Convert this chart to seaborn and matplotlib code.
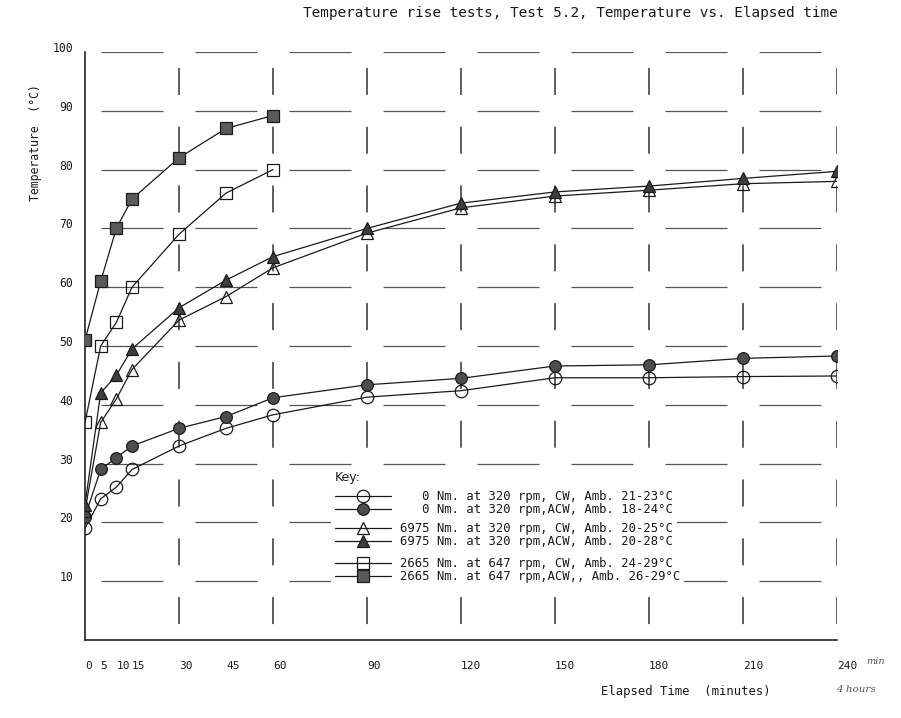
import matplotlib
matplotlib.use('Agg')
import matplotlib.pyplot as plt
import seaborn as sns
import numpy as np
import pandas as pd
from matplotlib.lines import Line2D

sns.set_style('white')
plt.rcParams['font.family'] = ['DejaVu Sans Mono', 'DejaVu Sans']
plt.rcParams['lines.scale_dashes'] = False

# ---------------- data ----------------
time_long = [0, 5, 10, 15, 30, 45, 60, 90, 120, 150, 180, 210, 240]
time_short = [0, 5, 10, 15, 30, 45, 60]

temp_0nm_cw = [19, 24, 26, 29, 33, 36, 38.3, 41.3, 42.4, 44.6, 44.6, 44.8, 44.9]
temp_0nm_acw = [21, 29, 31, 33, 36, 38, 41.2, 43.4, 44.5, 46.6, 46.8, 47.9, 48.3]
temp_6975_cw = [22, 37, 41, 46, 54.4, 58.4, 63.3, 69.2, 73.5, 75.5, 76.5, 77.6, 78.0]
temp_6975_acw = [23, 42, 45, 49.5, 56.5, 61.2, 65.2, 70, 74.3, 76.2, 77.2, 78.5, 79.7]
temp_2665_cw = [37, 50, 54, 60, 69, 76, 80]
temp_2665_acw = [51, 61, 70, 75, 82, 87, 89.2]

series_labels = [
    "   0 Nm. at 320 rpm, CW, Amb. 21-23°C",
    "   0 Nm. at 320 rpm,ACW, Amb. 18-24°C",
    "6975 Nm. at 320 rpm, CW, Amb. 20-25°C",
    "6975 Nm. at 320 rpm,ACW, Amb. 20-28°C",
    "2665 Nm. at 647 rpm, CW, Amb. 24-29°C",
    "2665 Nm. at 647 rpm,ACW,, Amb. 26-29°C",
]

x_ticks = [0, 5, 10, 15, 30, 45, 60, 90, 120, 150, 180, 210, 240]
y_ticks = [10, 20, 30, 40, 50, 60, 70, 80, 90, 100]
grid_x = [30, 60, 90, 120, 150, 180, 210, 240]
grid_y = [10, 20, 30, 40, 50, 60, 70, 80, 90, 100]

title = "Temperature rise tests, Test 5.2, Temperature vs. Elapsed time"
x_label = "Elapsed Time  (minutes)"
y_label = "Temperature  (°C)"

# ---------------- figure ----------------
W, H, DPI = 901, 718, 100
fig = plt.figure(figsize=(W / DPI, H / DPI), dpi=DPI)
ax_l, ax_r, ax_b, ax_t = 85, 837, 640, 52
ax = fig.add_axes([ax_l / W, 1 - ax_b / H, (ax_r - ax_l) / W, (ax_b - ax_t) / H])
ax.set_xlim(0, 240)
ax.set_ylim(0, 100)

ink = '#1a1a1a'

def ax_x(px):
    return (px - ax_l) / (ax_r - ax_l)

def ax_y(py):
    return (ax_b - py) / (ax_b - ax_t)

# grid: dashed segments centred in each cell
px_per_x = (ax_r - ax_l) / 240.0
px_per_y = (ax_b - ax_t) / 100.0
pt = 72.0 / DPI
vper = 10 * px_per_y
vdash = 27.0
vgap = vper - vdash
voff = (vper - (vgap / 2)) * pt
ax.vlines(grid_x, 0, 100, colors='#333333', linewidth=1.1,
          linestyles=[(voff, (vdash * pt, vgap * pt))], zorder=1)
hper = 30 * px_per_x
hdash = 62.0
hgap = hper - hdash
hoff = (hper - (hgap / 2)) * pt
ax.hlines(grid_y, 0, 240, colors='#555555', linewidth=0.9,
          linestyles=[(hoff, (hdash * pt, hgap * pt))], zorder=1)

styles = [
    (time_long, temp_0nm_cw, 'o', 'none', 9.0),
    (time_long, temp_0nm_acw, 'o', '#4d4d4d', 8.4),
    (time_long, temp_6975_cw, '^', 'none', 8.8),
    (time_long, temp_6975_acw, '^', '#3d3d3d', 8.8),
    (time_short, temp_2665_cw, 's', 'none', 8.0),
    (time_short, temp_2665_acw, 's', '#5a5a5a', 8.0),
]
handles = []
for (xs, ys, mk, fc, ms), lab in zip(styles, series_labels):
    df = pd.DataFrame({'t': xs, 'T': ys})
    sns.lineplot(data=df, x='t', y='T', ax=ax, color=ink, linewidth=0.9,
                 marker=mk, markersize=ms, markerfacecolor=fc,
                 markeredgecolor=ink, markeredgewidth=0.9,
                 estimator=None, sort=False, zorder=3)
    ln = ax.lines[-1]
    ln.set_label(lab)
    handles.append(ln)

# spines & ticks
sns.despine(ax=ax, top=True, right=True)
for s in ['left', 'bottom']:
    ax.spines[s].set_color('#222222')
    ax.spines[s].set_linewidth(1.2)

ax.set_xticks(x_ticks)
ax.set_xticklabels([str(v) for v in x_ticks], ha='left', fontsize=8, color=ink)
ax.set_yticks(y_ticks)
ax.set_yticklabels([str(v) for v in y_ticks], fontsize=8.3, color=ink, va='baseline')
ax.tick_params(axis='x', direction='out', length=6, width=1.0, pad=9, colors='#222222',
               labelcolor=ink)
ax.tick_params(axis='y', direction='out', length=7, width=1.0, pad=1.5, colors='#222222',
               labelcolor=ink)
ax.set_xlabel('')
ax.set_ylabel('')

# labels
fig.text(838 / W, 1 - 13 / H, title, ha='right', va='center', fontsize=10.4, color=ink)
ax.text(ax_x(686), ax_y(692), x_label, transform=ax.transAxes, ha='center',
        va='center', fontsize=8.8, color=ink)
ax.text(ax_x(35), ax_y(143), y_label, transform=ax.transAxes, ha='center',
        va='center', rotation=90, fontsize=8.3, color=ink)

# handwritten notes
fig.text(866 / W, 1 - 662 / H, 'min', ha='left', va='center', fontsize=7,
         family='DejaVu Serif', style='italic', color='#555555')
fig.text(836 / W, 1 - 689 / H, '4 hours', ha='left', va='center', fontsize=7.5,
         family='DejaVu Serif', style='italic', color='#555555')

# legend ("Key") in three groups
fs = 8.8
bp = 0.35
common = dict(loc='upper left', frameon=True, facecolor='white', edgecolor='none',
              framealpha=1.0, fancybox=False, borderpad=bp, borderaxespad=0,
              fontsize=fs, handlelength=4.6, handletextpad=0.7, labelspacing=0.0,
              numpoints=1)
left_px = 335 - bp * fs / pt
groups = [((0, 1), 466.5, 'Key:'), ((2, 3), 518.0, None), ((4, 5), 553.0, None)]
legs = []
for idx, top_px, ttl in groups:
    hs = [handles[i] for i in idx]
    kw = dict(common)
    if ttl:
        kw.update(title=ttl, title_fontsize=9, alignment='left')
    leg = ax.legend(handles=hs, labels=[h.get_label() for h in hs],
                    bbox_to_anchor=(ax_x(left_px), ax_y(top_px)), **kw)
    if ttl:
        leg.get_title().set_family('DejaVu Sans')
        leg.get_title().set_color(ink)
        leg._legend_box.sep = 4.5
    for t in leg.get_texts():
        t.set_color(ink)
    legs.append(leg)
for leg in legs[:-1]:
    ax.add_artist(leg)

fig.savefig('out.png', dpi=DPI)
